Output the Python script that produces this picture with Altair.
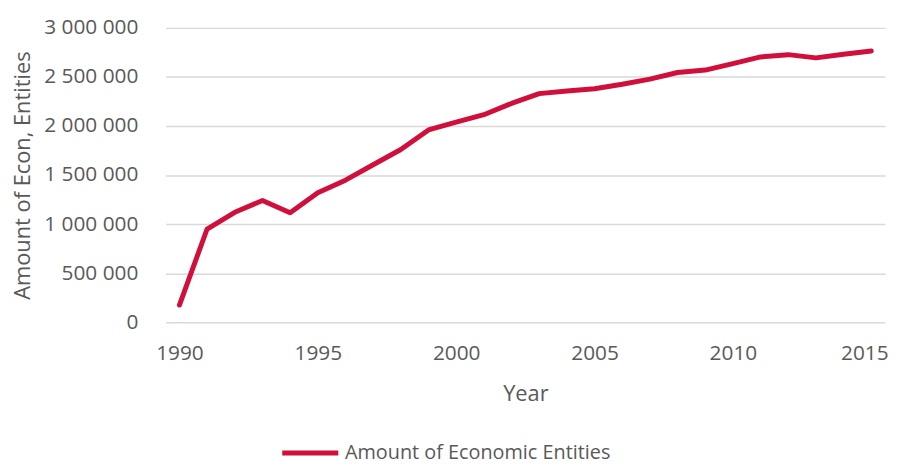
import altair as alt
import pandas as pd

years = list(range(1990, 2016))
entities = [175000, 950000, 1120000, 1240000, 1115000, 1320000, 1448000, 1605000,
            1760000, 1960000, 2040000, 2115000, 2230000, 2330000, 2357000, 2380000,
            2425000, 2478000, 2545000, 2570000, 2636000, 2704000, 2727000, 2694000,
            2731000, 2765000]
series_name = "Amount of Economic Entities"
x_ticks = [1990, 1995, 2000, 2005, 2010, 2015]
y_ticks = [0, 500000, 1000000, 1500000, 2000000, 2500000, 3000000]

df = pd.DataFrame({"Year": years, "Value": entities, "Series": [series_name] * len(years)})

FONT = "Open Sans"
GRAY = "#595959"
RED = "#D0103A"

label_expr = "replace(replace(format(datum.value, ','), ',', ' '), ',', ' ')"

chart = alt.Chart(df).mark_line(strokeWidth=5, strokeCap="round", strokeJoin="round").encode(
    x=alt.X("Year:Q",
            scale=alt.Scale(domain=[1989.5, 2015.5], nice=False, zero=False),
            axis=alt.Axis(values=x_ticks, format="d",
                          grid=False, domain=False, ticks=False, labelPadding=21,
                          labelAlign={"condition": {"test": "datum.value == 2015", "value": "right"},
                                      "value": "center"},
                          labelOffset={"condition": {"test": "datum.value == 2015", "value": 17},
                                       "value": 0},
                          title="Year", titleFontSize=22, titlePadding=20)),
    y=alt.Y("Value:Q",
            scale=alt.Scale(domain=[0, 3000000], nice=False),
            axis=alt.Axis(values=y_ticks,
                          labelExpr=label_expr, domain=False, ticks=False, labelPadding=28,
                          title="Amount of Econ, Entities", titleFontSize=22, titlePadding=9)),
    color=alt.Color("Series:N", scale=alt.Scale(range=[RED]),
                    legend=alt.Legend(title=None, orient="none", legendX=115, legendY=398,
                                      symbolType="stroke", symbolStrokeWidth=5,
                                      symbolSize=3200, labelFontSize=20, labelLimit=500,
                                      labelFont=FONT, labelColor=GRAY, labelOffset=4)),
).properties(
    width=726, height=297,
    autosize=alt.AutoSizeParams(type="none"),
    padding={"left": 159, "top": 18, "right": 13, "bottom": 142},
).configure_view(stroke=None).configure_axis(
    labelFont=FONT, titleFont=FONT, labelFontSize=21,
    labelColor=GRAY, titleColor=GRAY, titleFontWeight="normal",
    gridColor="#D9D9D9", gridWidth=1.5,
)

chart.save("out.html", embed_options={"renderer": "svg", "actions": False})
